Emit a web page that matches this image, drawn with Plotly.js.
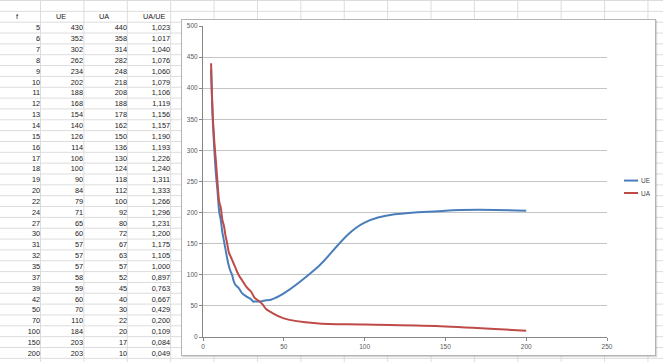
<!DOCTYPE html>
<html>
<head>
<meta charset="utf-8">
<script src="https://cdn.plot.ly/plotly-3.0.1.min.js"></script>
<style>
  html, body { margin:0; padding:0; }
  body {
    width:663px; height:362px; overflow:hidden; position:relative;
    background-color:#ffffff;
    background-image:
      linear-gradient(to right, #dcdcdc 1px, transparent 1px),
      linear-gradient(to bottom, #dcdcdc 1px, transparent 1px);
    background-size: 43.4px 10.85px, 43.4px 10.85px;
    background-position: 40px 0, 0 0;
  }
  #tbl { position:absolute; left:8px; top:6.3px; width:170px; height:356px; }
  #chart { position:absolute; left:181px; top:19px; width:473px; height:335px;
           background:#ffffff; border:1px solid #b4b4b4; box-shadow: 1px 1px 1px rgba(0,0,0,0.15); }
</style>
</head>
<body>
<div id="tbl"></div>
<div id="chart"></div>
<script>
// ---- data ----
const headers = ["f", "UE", "UA", "UA/UE"];
const f  = [5,6,7,8,9,10,11,12,13,14,15,16,17,18,19,20,22,24,27,30,31,32,35,37,39,42,50,70,100,150,200];
const UE = [430,352,302,262,234,202,188,168,154,140,126,114,106,100,90,84,79,71,65,60,57,57,57,58,59,60,70,110,184,203,203];
const UA = [440,358,314,282,248,218,208,188,178,162,150,136,130,124,118,112,100,92,80,72,67,63,57,52,45,40,30,22,20,17,10];
const ratio = [1.023,1.017,1.040,1.076,1.060,1.079,1.106,1.119,1.156,1.157,1.190,1.193,1.226,1.240,1.311,1.333,1.266,1.296,1.231,1.200,1.175,1.105,1.000,0.897,0.763,0.667,0.429,0.200,0.109,0.084,0.049];
const seriesNames = ["UE", "UA"];
const seriesColors = ["#4A7EBB", "#BE4B48"];
const xTicks = [0, 50, 100, 150, 200, 250];
const yTicks = [0, 50, 100, 150, 200, 250, 300, 350, 400, 450, 500];

// ---- table ----
const ratioTxt = ratio.map(v => v.toFixed(3).replace('.', ','));
const tfont = {family: "Liberation Sans, Arial, sans-serif", size: 7.3, color: "#1a1a1a"};
Plotly.newPlot('tbl', [{
  type: 'table',
  columnwidth: [40, 43, 44, 43],
  header: {
    values: headers,
    align: ['left', 'left', 'left', 'left'],
    height: 10.85,
    font: tfont,
    fill: {color: 'rgba(0,0,0,0)'},
    line: {color: 'rgba(0,0,0,0)', width: 0}
  },
  cells: {
    values: [f, UE, UA, ratioTxt],
    align: 'right',
    height: 10.85,
    font: tfont,
    fill: {color: 'rgba(0,0,0,0)'},
    line: {color: 'rgba(0,0,0,0)', width: 0}
  },
  domain: {x: [0, 1], y: [0, 1]}
}], {
  width: 170, height: 356,
  margin: {l: 0, r: 0, t: 0, b: 0},
  paper_bgcolor: 'rgba(0,0,0,0)'
}, {staticPlot: true, displayModeBar: false});

// ---- chart ----
const axFont = {family: "Liberation Sans, Arial, sans-serif", size: 6.5, color: "#595959"};
const traces = [UE, UA].map((ys, i) => ({
  type: 'scatter', mode: 'lines', x: f, y: ys, name: seriesNames[i],
  line: {color: seriesColors[i], width: 2, shape: 'spline', smoothing: 1},
  showlegend: false
}));
const shapes = [], annotations = [];
seriesNames.forEach((n, i) => {
  const yy = 0.503 - i * 0.04;
  shapes.push({type: 'line', xref: 'paper', yref: 'paper', x0: 1.042, x1: 1.077, y0: yy, y1: yy,
               line: {color: seriesColors[i], width: 2}});
  annotations.push({xref: 'paper', yref: 'paper', x: 1.079, y: yy, text: n, showarrow: false,
                    xanchor: 'left', yanchor: 'middle', font: {family: axFont.family, size: 6.5, color: '#444'}});
});
Plotly.newPlot('chart', traces, {
  width: 473, height: 335,
  margin: {l: 21, r: 48, t: 6, b: 18},
  paper_bgcolor: '#ffffff', plot_bgcolor: '#ffffff',
  xaxis: {range: [0, 250], tickvals: xTicks, showgrid: false, zeroline: false,
          showline: true, linecolor: '#868686', linewidth: 1,
          ticks: 'outside', ticklen: 3, tickcolor: '#868686', tickfont: axFont},
  yaxis: {range: [0, 500], tickvals: yTicks, showgrid: true, gridcolor: '#c4c4c4', gridwidth: 1,
          zeroline: false, showline: true, linecolor: '#868686', linewidth: 1,
          ticks: 'outside', ticklen: 3, tickcolor: '#868686', tickfont: axFont},
  shapes: shapes, annotations: annotations
}, {staticPlot: true, displayModeBar: false});
</script>
</body>
</html>
